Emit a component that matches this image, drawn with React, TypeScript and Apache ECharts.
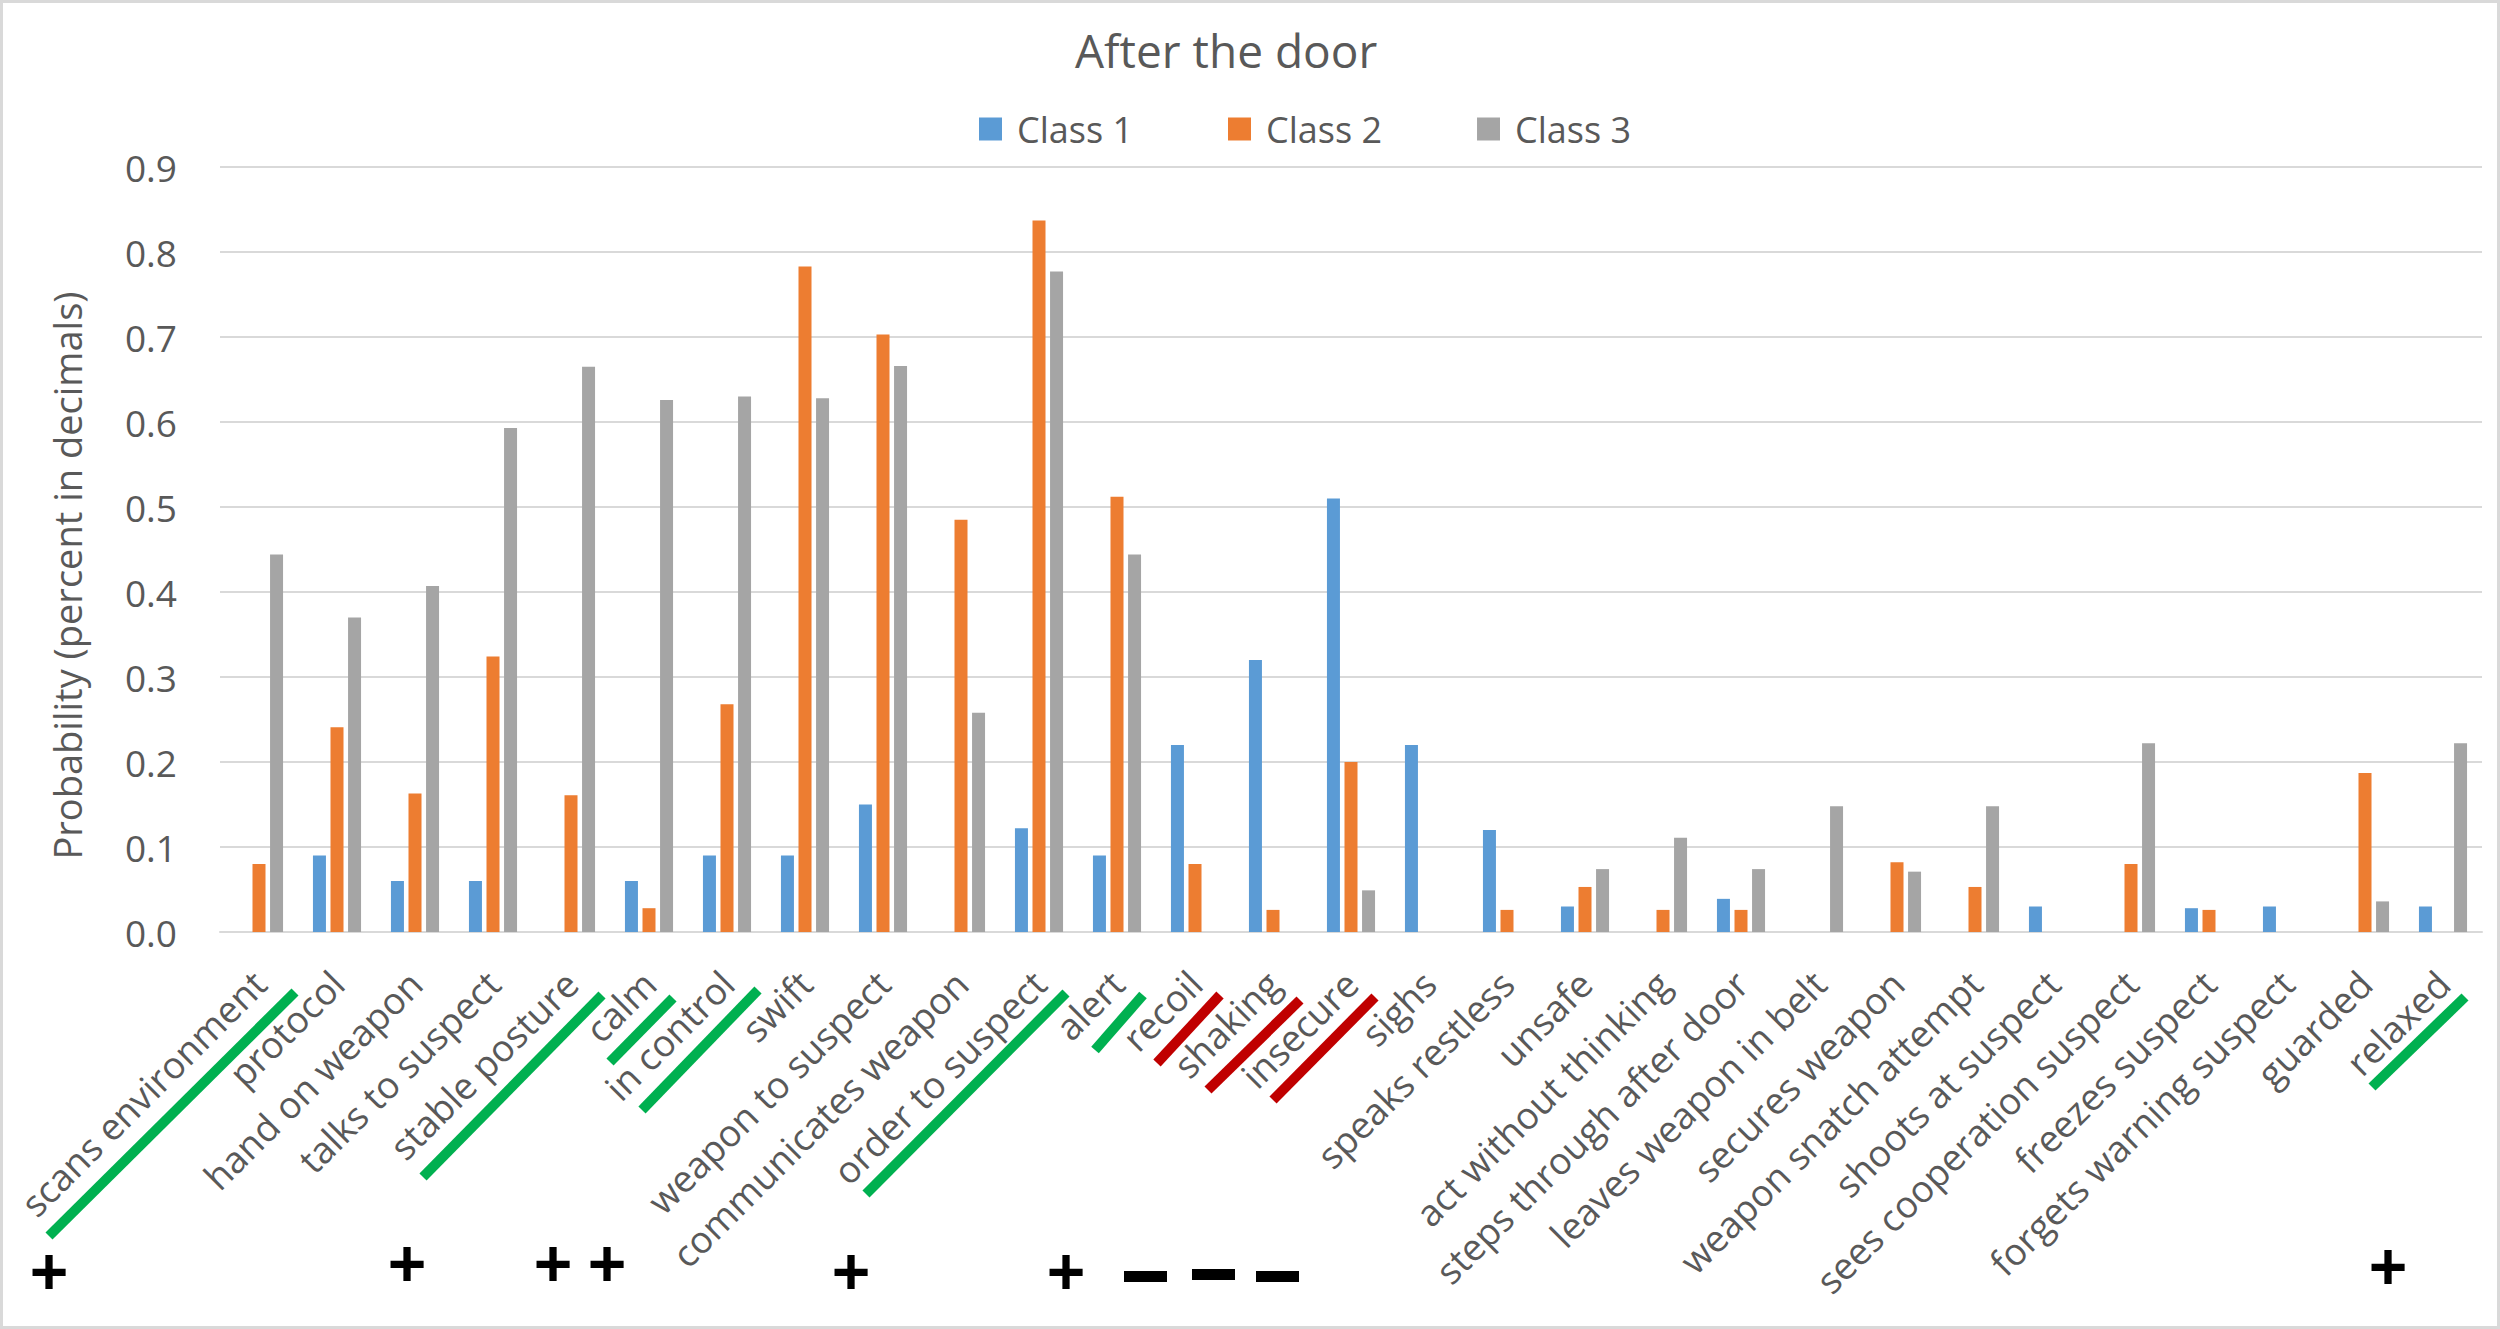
import React, { useEffect, useRef } from "react";
import * as echarts from "echarts";

const categories = [
  "scans environment", "protocol", "hand on weapon", "talks to suspect", "stable posture",
  "calm", "in control", "swift", "weapon to suspect", "communicates weapon",
  "order to suspect", "alert", "recoil", "shaking", "insecure", "sighs",
  "speaks restless", "unsafe", "act without thinking", "steps through after door",
  "leaves weapon in belt", "secures weapon", "weapon snatch attempt", "shoots at suspect",
  "sees cooperation suspect", "freezes suspect", "forgets warning suspect", "guarded", "relaxed",
];

const seriesNames = ["Class 1", "Class 2", "Class 3"];

const class1 = [
  0, 0.09, 0.06, 0.06, 0, 0.06, 0.09, 0.09, 0.15, 0, 0.122, 0.09, 0.22, 0.32, 0.51, 0.22,
  0.12, 0.03, 0, 0.039, 0, 0, 0, 0.03, 0, 0.028, 0.03, 0, 0.03,
];
const class2 = [
  0.08, 0.241, 0.163, 0.324, 0.161, 0.028, 0.268, 0.783, 0.703, 0.485, 0.837, 0.512, 0.08,
  0.026, 0.2, 0, 0.026, 0.053, 0.026, 0.026, 0, 0.082, 0.053, 0, 0.08, 0.026, 0, 0.187, 0,
];
const class3 = [
  0.444, 0.37, 0.407, 0.593, 0.665, 0.626, 0.63, 0.628, 0.666, 0.258, 0.777, 0.444, 0, 0,
  0.049, 0, 0, 0.074, 0.111, 0.074, 0.148, 0.071, 0.148, 0, 0.222, 0, 0, 0.036, 0.222,
];

const colors = ["#5b9bd5", "#ed7d31", "#a5a5a5"];

const chartTitle = "After the door";
const yAxisTitle = "Probability (percent in decimals)";

// hand-drawn annotations laid over the picture (green = positive, red = negative)
const underlines = [
  { from: [49, 1236], to: [295, 992], color: "#00b050" },
  { from: [423, 1177], to: [602, 995], color: "#00b050" },
  { from: [610, 1062], to: [673, 998], color: "#00b050" },
  { from: [642, 1110], to: [758, 990], color: "#00b050" },
  { from: [866, 1194], to: [1066, 993], color: "#00b050" },
  { from: [1095, 1050], to: [1143, 995], color: "#00b050" },
  { from: [1157, 1063], to: [1220, 995], color: "#c00000" },
  { from: [1208, 1090], to: [1300, 1000], color: "#c00000" },
  { from: [1273, 1100], to: [1375, 997], color: "#c00000" },
  { from: [2372, 1087], to: [2465, 997], color: "#00b050" },
];
const plusSigns = [
  [49, 1271], [407, 1263], [553, 1263], [607, 1263], [851, 1271], [1066, 1271], [2388, 1266],
];
const minusSigns = [
  [1124, 1271], [1192, 1269], [1256, 1271],
];

const FONT = "'Open Sans', 'Noto Sans', sans-serif";
const TEXT = "#595959";

export default function App() {
  const ref = useRef<HTMLDivElement>(null);
  useEffect(() => {
    const chart = echarts.init(ref.current!, null, { renderer: "svg" });
    const data = [class1, class2, class3];
    const graphic: any[] = [
      {
        type: "rect",
        shape: { x: 1.5, y: 1.5, width: 2497, height: 1326 },
        style: { fill: "none", stroke: "#d9d9d9", lineWidth: 3 },
        silent: true,
      },
    ];
    underlines.forEach((u) =>
      graphic.push({
        type: "line",
        shape: { x1: u.from[0], y1: u.from[1], x2: u.to[0], y2: u.to[1] },
        style: { stroke: u.color, lineWidth: 10, lineCap: "butt" },
        silent: true,
      })
    );
    plusSigns.forEach((p) =>
      graphic.push({
        type: "text",
        x: p[0],
        y: p[1],
        style: {
          text: "+",
          fill: "#000",
          font: "bold 66px 'Liberation Sans', Arial, sans-serif",
          align: "center",
          verticalAlign: "middle",
        },
        silent: true,
      })
    );
    minusSigns.forEach((m) =>
      graphic.push({
        type: "rect",
        shape: { x: m[0], y: m[1], width: 43, height: 11 },
        style: { fill: "#000" },
        silent: true,
      })
    );

    chart.setOption({
      animation: false,
      backgroundColor: "#ffffff",
      textStyle: { fontFamily: FONT },
      title: {
        text: chartTitle,
        left: 1070,
        top: 22,
        textStyle: { fontFamily: FONT, fontSize: 46, fontWeight: "normal", color: TEXT },
      },
      legend: {
        data: seriesNames,
        left: 974,
        top: 106,
        icon: "rect",
        itemWidth: 23,
        itemHeight: 23,
        itemGap: 95,
        textStyle: { fontFamily: FONT, fontSize: 36, color: TEXT, padding: [0, 0, 0, 10] },
      },
      grid: {
        left: 220,
        right: 18,
        top: 167,
        bottom: 397,
        containLabel: false,
        outerBoundsMode: "none",
      },
      xAxis: {
        type: "category",
        data: categories,
        axisLine: { show: true, lineStyle: { color: "#d9d9d9", width: 2 } },
        axisTick: { show: false },
        axisLabel: {
          interval: 0,
          rotate: 45,
          margin: 45,
          fontFamily: FONT,
          fontSize: 37,
          color: TEXT,
          padding: [37, 0, 0, 0],
        },
      },
      yAxis: {
        type: "value",
        min: 0,
        max: 0.9,
        interval: 0.1,
        name: yAxisTitle,
        nameLocation: "middle",
        nameGap: 134,
        nameRotate: 90,
        nameTextStyle: { fontFamily: FONT, fontSize: 38, color: TEXT, padding: [0, 52, 0, 0] },
        axisLine: { show: false },
        axisTick: { show: false },
        splitLine: { lineStyle: { color: "#d9d9d9", width: 2 } },
        axisLabel: {
          margin: 43,
          fontFamily: FONT,
          fontSize: 37,
          color: TEXT,
          formatter: (v: number) => v.toFixed(1),
        },
      },
      series: seriesNames.map((name, i) => ({
        name,
        type: "bar",
        data: data[i],
        barWidth: 13,
        barGap: "35%",
        itemStyle: { color: colors[i] },
      })),
      graphic,
    });
    return () => chart.dispose();
  }, []);
  return (
    <div
      ref={ref}
      style={{ position: "absolute", left: 0, top: 0, width: 2500, height: 1329, background: "#fff" }}
    />
  );
}
